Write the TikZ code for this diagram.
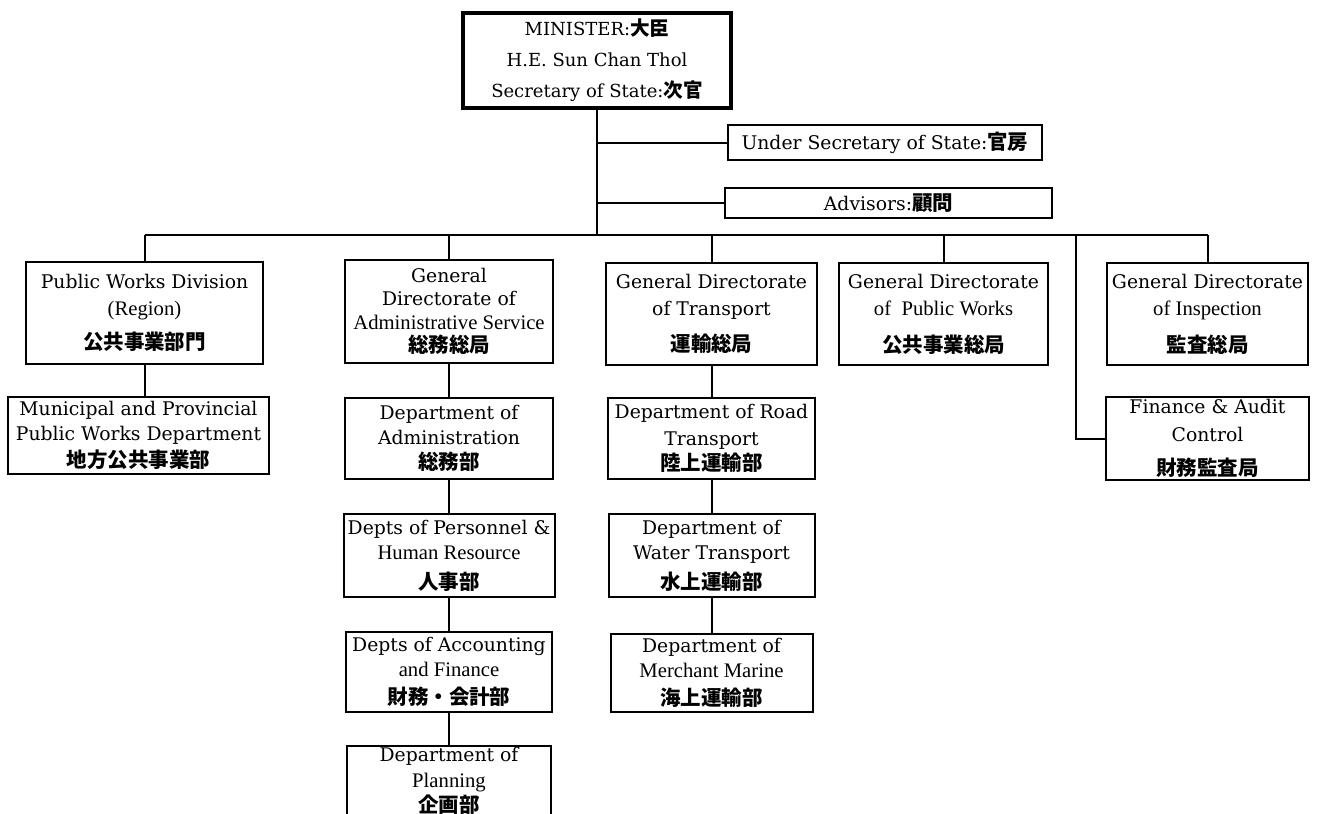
\documentclass[tikz,border=0pt]{standalone}
\usepackage{fontspec}
\setmainfont{DejaVu Serif}
\newfontfamily\jpfont{Noto Sans CJK JP}[Scale=1.09]
\newfontfamily\ltfont{Liberation Serif}[Scale=1.1]
\newcommand{\jp}{\jpfont\bfseries}
\newcommand{\lt}{\ltfont}
\usetikzlibrary{positioning}

\begin{document}
\begin{tikzpicture}[
  x=1pt, y=-1pt,
  font=\fontsize{18.8}{25}\selectfont,
  box/.style={draw, line width=2pt, align=center, inner sep=1pt},
  head/.style={box, line width=3.5pt, font=\fontsize{18}{31}\selectfont},
  link/.style={draw, line width=2pt}
]
\useasboundingbox (0,0) rectangle (1318,814);
\clip (0,0) rectangle (1318,814);

% top
\node[head, minimum width=268pt, minimum height=95pt] (min) at (597,60.5)
  {MINISTER:{\jp 大臣}\\H.E. Sun Chan Thol\\Secretary of State:{\jp 次官}};
\node[box, minimum width=314pt, minimum height=35pt] (usec) at (885,142.5)
  {Under Secretary of State:{\jp 官房}};
\node[box, minimum width=327pt, minimum height=30pt] (adv) at (888.5,203)
  {Advisors:{\jp 顧問}};
\coordinate (bus) at (595,235);

% general directorates
\node[box, minimum width=237pt, minimum height=102pt] (pwd) at (144.5,313)
  {Public Works Division\\[2pt]{\lt (Region)}\\[9pt]{\jp 公共事業部門}};
\node[box, minimum width=208pt, minimum height=103pt, font=\fontsize{18.8}{23.5}\selectfont]
  (gdas) at (449,311.5)
  {General\\Directorate of\\{\lt Administrative Service}\\{\jp 総務総局}};
\node[box, minimum width=211pt, minimum height=102pt] (gdt) at (711.5,314)
  {General Directorate\\[2pt]of Transport\\[11pt]{\jp 運輸総局}};
\node[box, minimum width=209pt, minimum height=102pt] (gdpw) at (943.5,314)
  {General Directorate\\[2pt]{\lt of~~Public Works}\\[12pt]{\jp 公共事業総局}};
\node[box, minimum width=201pt, minimum height=102pt] (gdi) at (1207.5,314)
  {General Directorate\\[2pt]{\lt of Inspection}\\[12pt]{\jp 監査総局}};

% departments
\node[box, minimum width=261pt, minimum height=77pt, below=31pt of pwd, xshift=-6pt] (muni)
  {Municipal and Provincial\\Public Works Department\\[2pt]{\jp 地方公共事業部}};
\node[box, minimum width=208pt, minimum height=81pt, below=33pt of gdas] (adm)
  {Department of\\Administration\\{\jp 総務部}};
\node[box, minimum width=211pt, minimum height=83pt, below=33pt of adm] (pers)
  {Depts of Personnel \&\\{\lt Human Resource}\\[5pt]{\jp 人事部}};
\node[box, minimum width=206pt, minimum height=80pt, below=33pt of pers] (acc)
  {Depts of Accounting\\{\lt and Finance}\\[3pt]{\jp 財務・会計部}};
\node[box, minimum width=204pt, minimum height=80pt, below=32pt of acc] (plan)
  {Department of\\[1pt]{\lt Planning}\\{\jp 企画部}\\[-10pt]\mbox{}};
\node[box, minimum width=207pt, minimum height=81pt, below=31pt of gdt] (road)
  {Department of Road\\[2pt]Transport\\{\jp 陸上運輸部}};
\node[box, minimum width=206pt, minimum height=83pt, below=33pt of road] (water)
  {Department of\\Water Transport\\[5pt]{\jp 水上運輸部}};
\node[box, minimum width=202pt, minimum height=78pt, below=35pt of water] (mar)
  {Department of\\{\lt Merchant Marine}\\[3pt]{\jp 海上運輸部}};
\node[box, minimum width=203pt, minimum height=83pt, below=30pt of gdi] (fac)
  {Finance \& Audit\\[3pt]Control\\[9pt]{\jp 財務監査局}};
\coordinate (facdrop) at (1076,235);

% lines
\draw[link] (min.south) -- (min.south |- bus);
\draw[link] (min.south |- usec) -- (usec.west);
\draw[link] (min.south |- adv) -- (adv.west);
\draw[link] (pwd.north |- bus) -- (gdi.north |- bus);
\foreach \n in {pwd,gdas,gdt,gdpw,gdi}
  \draw[link] (\n.north) -- (\n.north |- bus);
\draw[link] (facdrop) |- (fac.west);
\draw[link] (pwd.south) -- (pwd.south |- muni.north);
\draw[link] (gdas) -- (adm);
\draw[link] (adm) -- (pers);
\draw[link] (pers) -- (acc);
\draw[link] (acc) -- (plan);
\draw[link] (gdt) -- (road);
\draw[link] (road) -- (water);
\draw[link] (water) -- (mar);
\end{tikzpicture}
\end{document}
